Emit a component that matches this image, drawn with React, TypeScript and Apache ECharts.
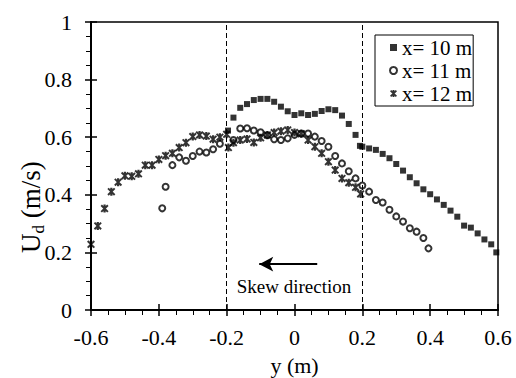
import React, { useEffect, useRef } from "react";
import * as echarts from "echarts";

const FONT = "Liberation Serif";

// x = 10 m (filled squares)
const y10 = [-0.196, -0.18, -0.16, -0.14, -0.12, -0.10, -0.08, -0.06, -0.04, -0.02, 0, 0.02, 0.04, 0.06, 0.08, 0.10, 0.12, 0.14, 0.16, 0.18, 0.193, 0.2, 0.22, 0.24, 0.26, 0.28, 0.30, 0.32, 0.34, 0.36, 0.38, 0.40, 0.42, 0.44, 0.46, 0.48, 0.50, 0.52, 0.54, 0.56, 0.58, 0.595];
const u10 = [0.623, 0.668, 0.702, 0.715, 0.729, 0.733, 0.733, 0.723, 0.706, 0.69, 0.677, 0.683, 0.677, 0.681, 0.691, 0.697, 0.694, 0.675, 0.646, 0.608, 0.570, 0.567, 0.561, 0.556, 0.542, 0.527, 0.507, 0.484, 0.461, 0.440, 0.419, 0.402, 0.384, 0.365, 0.345, 0.324, 0.293, 0.286, 0.266, 0.245, 0.228, 0.200];

// x = 11 m (open circles)
const y11 = [-0.39, -0.38, -0.36, -0.34, -0.32, -0.30, -0.28, -0.26, -0.24, -0.22, -0.18, -0.16, -0.14, -0.12, -0.10, -0.08, -0.06, -0.04, -0.02, 0, 0.02, 0.04, 0.06, 0.08, 0.10, 0.12, 0.14, 0.16, 0.18, 0.20, 0.22, 0.24, 0.26, 0.28, 0.30, 0.32, 0.34, 0.36, 0.38, 0.395];
const u11 = [0.353, 0.428, 0.503, 0.530, 0.518, 0.535, 0.550, 0.547, 0.558, 0.577, 0.590, 0.630, 0.631, 0.623, 0.617, 0.607, 0.593, 0.590, 0.596, 0.608, 0.613, 0.613, 0.602, 0.587, 0.567, 0.535, 0.509, 0.482, 0.457, 0.432, 0.411, 0.382, 0.373, 0.348, 0.325, 0.307, 0.284, 0.272, 0.250, 0.214];

// x = 12 m (asterisks)
const y12 = [-0.6, -0.58, -0.56, -0.54, -0.52, -0.50, -0.48, -0.46, -0.44, -0.42, -0.40, -0.38, -0.36, -0.34, -0.32, -0.30, -0.28, -0.26, -0.24, -0.22, -0.20, -0.195, -0.18, -0.16, -0.14, -0.12, -0.10, -0.08, -0.06, -0.04, -0.02, 0, 0.02, 0.04, 0.06, 0.08, 0.10, 0.12, 0.14, 0.16, 0.18, 0.195];
const u12 = [0.228, 0.292, 0.352, 0.411, 0.444, 0.466, 0.464, 0.473, 0.503, 0.503, 0.523, 0.536, 0.544, 0.564, 0.581, 0.602, 0.608, 0.604, 0.593, 0.600, 0.610, 0.564, 0.581, 0.590, 0.594, 0.582, 0.598, 0.608, 0.616, 0.621, 0.625, 0.616, 0.612, 0.590, 0.567, 0.544, 0.515, 0.486, 0.457, 0.442, 0.426, 0.403];

const seriesNames = ["x= 10 m", "x= 11 m", "x= 12 m"];
const dashedAt = [-0.2, 0.2];
const arrowFrom = [0.067, 0.159];
const arrowTo = [-0.104, 0.159];

const STAR =
  "path://M3.6,0 L6.4,0 L6.4,10 L3.6,10 Z M0,1.7 L1.7,0 L10,8.3 L8.3,10 Z M8.3,0 L10,1.7 L1.7,10 L0,8.3 Z";

const zip = (a: number[], b: number[]) => a.map((v, i) => [v, b[i]]);

export default function App() {
  const ref = useRef<HTMLDivElement>(null);
  useEffect(() => {
    if (!ref.current) return;
    const chart = echarts.init(ref.current, undefined, { renderer: "svg" });
    const axisText = { color: "#000", fontFamily: FONT, fontSize: 22 };
    const option: any = {
      animation: false,
      backgroundColor: "#fff",
      grid: {
        left: 91,
        right: 18,
        top: 22,
        bottom: 68,
        containLabel: false,
        outerBoundsMode: "none",
        show: true,
        borderColor: "#000",
        borderWidth: 1.5,
        backgroundColor: "transparent",
      },
      xAxis: [
        {
          type: "value",
          min: -0.6,
          max: 0.6,
          interval: 0.2,
          position: "bottom",
          axisLine: { show: true, onZero: false, lineStyle: { color: "#000", width: 2 } },
          axisTick: { show: true, inside: false, length: 6, lineStyle: { color: "#000", width: 1.5 } },
          minorTick: { show: true, splitNumber: 4, length: 5, lineStyle: { color: "#000", width: 1 } },
          splitLine: { show: false },
          axisLabel: { ...axisText, margin: 16 },
          name: "y (m)",
          nameLocation: "middle",
          nameGap: 44,
          nameTextStyle: { ...axisText, fontSize: 22 },
        },
        {
          type: "value",
          min: -0.6,
          max: 0.6,
          interval: 0.2,
          position: "bottom",
          axisLine: { show: false, onZero: false },
          axisTick: { show: true, inside: true, length: 6, lineStyle: { color: "#000", width: 1.5 } },
          axisLabel: { show: false },
          splitLine: { show: false },
        },
      ],
      yAxis: [
        {
          type: "value",
          min: 0,
          max: 1,
          interval: 0.2,
          position: "left",
          axisLine: { show: true, onZero: false, lineStyle: { color: "#000", width: 2 } },
          axisTick: { show: true, inside: false, length: 6, lineStyle: { color: "#000", width: 1.5 } },
          minorTick: { show: true, splitNumber: 4, length: 5, lineStyle: { color: "#000", width: 1 } },
          splitLine: { show: false },
          axisLabel: { ...axisText, margin: 19 },
        },
        {
          type: "value",
          min: 0,
          max: 1,
          interval: 0.2,
          position: "left",
          axisLine: { show: false, onZero: false },
          axisTick: { show: true, inside: true, length: 6, lineStyle: { color: "#000", width: 1.5 } },
          axisLabel: { show: false },
          splitLine: { show: false },
        },
      ],
      legend: {
        orient: "vertical",
        left: 375,
        top: 35,
        padding: [2, 1, 2, 14],
        itemGap: 2,
        itemWidth: 7,
        itemHeight: 7,
        borderColor: "#000",
        borderWidth: 1,
        backgroundColor: "#fff",
        textStyle: { color: "#000", fontFamily: FONT, fontSize: 21 },
        data: seriesNames,
      },
      graphic: [
        {
          type: "group",
          x: 31,
          y: 206,
          rotation: Math.PI / 2,
          children: [
            {
              type: "text",
              x: -47,
              y: 0,
              style: { text: "U", font: `27px '${FONT}'`, fill: "#000", align: "left", verticalAlign: "middle" },
            },
            {
              type: "text",
              x: -27.5,
              y: 7,
              style: { text: "d", font: `17px '${FONT}'`, fill: "#000", align: "left", verticalAlign: "middle" },
            },
            {
              type: "text",
              x: -19,
              y: 0,
              style: { text: " (m/s)", font: `27px '${FONT}'`, fill: "#000", align: "left", verticalAlign: "middle" },
            },
          ],
        },
        {
          type: "text",
          x: 294,
          y: 286,
          style: {
            text: "Skew direction",
            align: "center",
            verticalAlign: "middle",
            font: `19px '${FONT}'`,
            fill: "#000",
          },
        },
      ],
      series: [
        {
          name: seriesNames[0],
          type: "scatter",
          symbol: "rect",
          symbolSize: 6,
          clip: false,
          itemStyle: { color: "#000" },
          data: zip(y10, u10),
          markLine: {
            silent: true,
            symbol: "none",
            label: { show: false },
            lineStyle: { color: "#000", width: 1, type: [5, 3] },
            data: dashedAt.map((v) => ({ xAxis: v })),
          },
          z: 3,
        },
        {
          name: seriesNames[1],
          type: "scatter",
          symbol: "emptyCircle",
          symbolSize: 6,
          clip: false,
          itemStyle: { color: "#000", borderColor: "#000", borderWidth: 0.9 },
          data: zip(y11, u11),
          markLine: {
            silent: true,
            symbol: ["none", "arrow"],
            symbolSize: [11, 14],
            label: { show: false },
            lineStyle: { color: "#000", width: 2, type: "solid" },
            data: [[{ coord: arrowFrom }, { coord: arrowTo }]],
          },
          z: 4,
        },
        {
          name: seriesNames[2],
          type: "scatter",
          symbol: STAR,
          symbolSize: 8,
          clip: false,
          itemStyle: { color: "#000" },
          data: zip(y12, u12),
          z: 5,
        },
      ],
    };
    chart.setOption(option);
    return () => chart.dispose();
  }, []);
  return <div ref={ref} style={{ width: 516, height: 378, position: "absolute", left: 0, top: 0 }} />;
}
